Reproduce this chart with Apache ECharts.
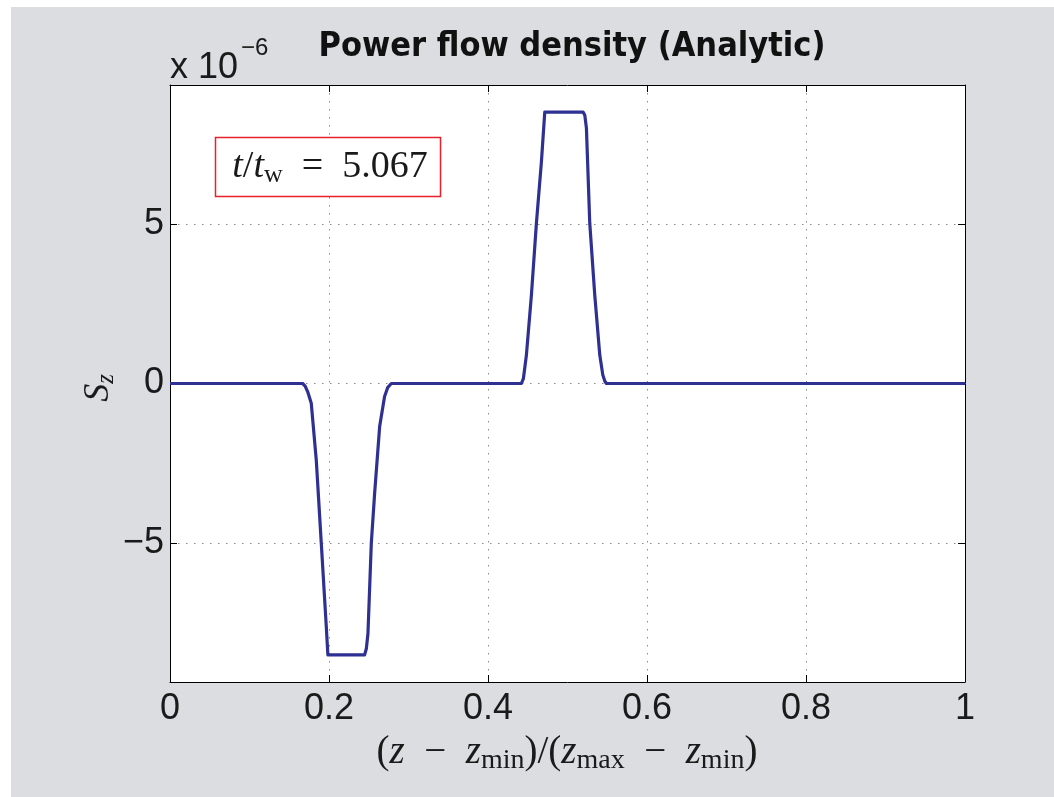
<!DOCTYPE html>
<html><head><meta charset="utf-8">
<script src="https://cdn.jsdelivr.net/npm/echarts@6/dist/echarts.min.js"></script>
<style>html,body{margin:0;padding:0;background:#fff}#c{width:1054px;height:797px}</style>
</head><body><div id="c"></div>
<script>
// normalized position (z - zmin)/(zmax - zmin)
const zPos = [0, 0.1668, 0.1700, 0.1735, 0.1777, 0.184, 0.1903, 0.1966, 0.1986, 0.2448, 0.2470, 0.249, 0.2532, 0.2574, 0.2637, 0.2699, 0.2740, 0.2784,
  0.442, 0.4445, 0.4483, 0.4546, 0.4609, 0.4672, 0.4714, 0.5196, 0.5218, 0.5238, 0.528, 0.5343, 0.5406, 0.5444, 0.5470, 0.549, 1];
// S_z in units of 1e-6
const sz = [0, 0, -0.08, -0.28, -0.62, -2.40, -5.01, -7.62, -8.5, -8.5, -8.3, -7.83, -5.01, -3.44, -1.35, -0.41, -0.12, 0,
  0, 0.15, 0.89, 2.77, 5.02, 6.95, 8.5, 8.5, 8.4, 8.0, 5.02, 2.77, 0.89, 0.27, 0.07, 0, 0];
const xTickLabels = ['0', '0.2', '0.4', '0.6', '0.8', '1'];
const yTickValues = [-5, 0, 5];
const yTickLabels = ['\u22125', '0', '5'];
const yLimit = 9.35;
const timeLabel = '5.067';

const chart = echarts.init(document.getElementById('c'), null, {renderer: 'canvas'});
const sans = "'Liberation Sans', Arial, sans-serif";
const serif = "'Liberation Serif', 'DejaVu Serif', serif";
const data = zPos.map((z, i) => [z, sz[i]]);
const tickStyle = {show: true, inside: true, length: 7, lineStyle: {color: '#000', width: 1}};
const gridDots = {show: true, lineStyle: {color: '#8a8a8a', width: 1, type: [1.5, 6.5]}};

chart.setOption({
  backgroundColor: '#dcdde0',
  animation: false,
  title: {
    text: 'Power flow density (Analytic)',
    left: 567, top: 25, textAlign: 'center',
    textStyle: {fontFamily: "'Liberation Sans Narrow', 'DejaVu Sans Condensed', sans-serif", fontWeight: 'bold', fontSize: 34, color: '#111'}
  },
  grid: {left: 170, right: 89, top: 85, bottom: 115, show: true, backgroundColor: '#fff', borderWidth: 0},
  xAxis: [{
    type: 'value', min: 0, max: 1, interval: 0.2,
    axisLine: {show: true, onZero: false, lineStyle: {color: '#000', width: 1}},
    axisTick: tickStyle,
    axisLabel: {fontFamily: sans, fontSize: 36, color: '#1a1a1a', margin: 9,
      formatter: (v) => xTickLabels[Math.round(v / 0.2)]},
    splitLine: gridDots
  }, {
    type: 'value', min: 0, max: 1, interval: 0.2, position: 'top',
    axisLine: {show: true, onZero: false, lineStyle: {color: '#000', width: 1}},
    axisTick: tickStyle, axisLabel: {show: false}, splitLine: {show: false}
  }],
  yAxis: [{
    type: 'value', min: -yLimit, max: yLimit, splitNumber: 4, minInterval: 5, maxInterval: 5,
    axisLine: {show: true, onZero: false, lineStyle: {color: '#000', width: 1}},
    axisTick: Object.assign({}, tickStyle, {customValues: yTickValues}),
    axisLabel: {fontFamily: sans, fontSize: 36, color: '#1a1a1a', margin: 6, customValues: yTickValues,
      formatter: (v) => yTickLabels[yTickValues.indexOf(Math.round(v))]},
    splitLine: gridDots
  }, {
    type: 'value', min: -yLimit, max: yLimit, position: 'right',
    axisLine: {show: true, onZero: false, lineStyle: {color: '#000', width: 1}},
    axisTick: Object.assign({}, tickStyle, {customValues: yTickValues}),
    axisLabel: {show: false}, splitLine: {show: false}
  }],
  series: [{
    type: 'line', data: data, showSymbol: false, symbol: 'none', smooth: false,
    lineStyle: {color: '#2e3192', width: 3.2, join: 'round'}, z: 5
  }],
  graphic: [
    {type: 'rect', shape: {x: 0, y: 0, width: 11, height: 797}, style: {fill: '#fff'}, silent: true, z: -10},
    {type: 'rect', shape: {x: 0, y: 0, width: 1054, height: 7}, style: {fill: '#fff'}, silent: true, z: -10},
    {type: 'text', x: 170, y: 86, style: {text: 'x 10', font: "36px 'Liberation Sans', Arial, sans-serif", fill: '#1a1a1a', textVerticalAlign: 'bottom'}},
    {type: 'text', x: 241, y: 36, style: {text: '\u22126', font: "24px 'Liberation Sans', Arial, sans-serif", fill: '#1a1a1a', textVerticalAlign: 'top'}},
    {type: 'rect', shape: {x: 215.5, y: 137.5, width: 225, height: 59}, style: {fill: '#fff', stroke: '#e8202a', lineWidth: 1.5}, z: 10},
    {type: 'text', x: 330, y: 167, z: 11, style: {
      rich: {
        i: {fontFamily: serif, fontStyle: 'italic', fontSize: 38, fill: '#1a1a1a'},
        r: {fontFamily: serif, fontSize: 38, fill: '#1a1a1a'},
        s: {fontFamily: serif, fontSize: 26, fill: '#1a1a1a', padding: [16, 0, 0, 0]}
      },
      text: '{i|t}{r|/}{i|t}{s|w}{r|\u2002=\u2002' + timeLabel + '}',
      align: 'center', verticalAlign: 'middle'
    }},
    {type: 'text', x: 567, y: 753, style: {
      rich: {
        i: {fontFamily: serif, fontStyle: 'italic', fontSize: 39, fill: '#1a1a1a'},
        r: {fontFamily: serif, fontSize: 39, fill: '#1a1a1a'},
        s: {fontFamily: serif, fontSize: 28, fill: '#1a1a1a', padding: [16, 0, 0, 0]}
      },
      text: '{r|(}{i|z}{r|\u2002\u2212\u2002}{i|z}{s|min}{r|)/(}{i|z}{s|max}{r|\u2002\u2212\u2002}{i|z}{s|min}{r|)}',
      align: 'center', verticalAlign: 'middle'
    }},
    {type: 'text', x: 99, y: 388, rotation: Math.PI / 2, style: {
      rich: {
        i: {fontFamily: serif, fontStyle: 'italic', fontSize: 36, fill: '#1a1a1a'},
        s: {fontFamily: serif, fontStyle: 'italic', fontSize: 25, fill: '#1a1a1a', padding: [14, 0, 0, 0]}
      },
      text: '{i|S}{s|z}', align: 'center', verticalAlign: 'middle'
    }}
  ]
});
</script>
</body></html>
